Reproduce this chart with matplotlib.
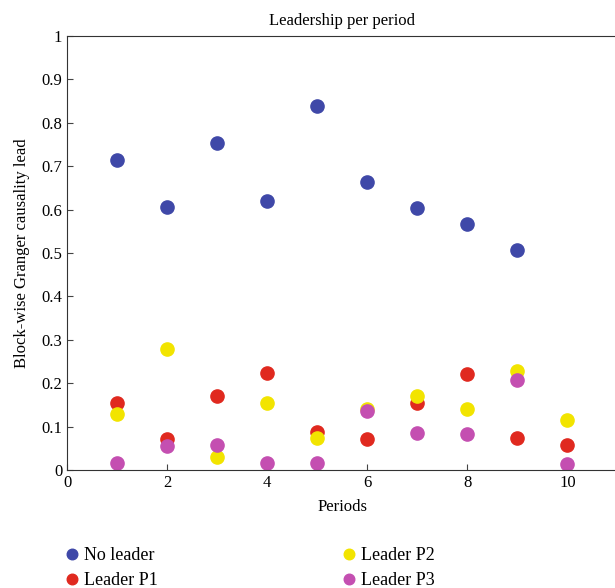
""" leadership per period """

import matplotlib.pyplot as plt

plt.rcParams['font.family'] = ['Liberation Serif', 'DejaVu Serif']

periods = [1, 2, 3, 4, 5, 6, 7, 8, 9, 10]
no_leader = [0.714, 0.607, 0.754, 0.621, 0.838, 0.664, 0.604, 0.567, 0.506]
leader_p1 = [0.155, 0.072, 0.170, 0.223, 0.088, 0.072, 0.155, 0.221, 0.073, 0.058]
leader_p2 = [0.129, 0.279, 0.031, 0.155, 0.074, 0.140, 0.170, 0.141, 0.227, 0.115]
leader_p3 = [0.015, 0.055, 0.057, 0.015, 0.015, 0.136, 0.085, 0.084, 0.208, 0.014]

fig = plt.figure(figsize=(6.15, 5.88), dpi=100)
ax = fig.add_axes([0.109, 0.2007, 0.895, 0.738])

ms = 9.5
ax.plot(periods[:9], no_leader, 'o', color='#3f48a8', markersize=ms, label='No leader')
ax.plot(periods, leader_p1, 'o', color='#e0291f', markersize=ms, label='Leader P1')
ax.plot(periods, leader_p2, 'o', color='#f2e400', markersize=ms, label='Leader P2')
ax.plot(periods, leader_p3, 'o', color='#c44fb1', markersize=ms, label='Leader P3')

ax.set_xlim(0, 11)
ax.set_ylim(0, 1)
ax.set_xticks([0, 2, 4, 6, 8, 10])
ax.set_yticks([0, 0.1, 0.2, 0.3, 0.4, 0.5, 0.6, 0.7, 0.8, 0.9, 1])
ax.set_yticklabels(['0', '0.1', '0.2', '0.3', '0.4', '0.5', '0.6', '0.7', '0.8', '0.9', '1'])
ax.tick_params(direction='in', labelsize=12, length=4, color='#444444')
ax.spines['right'].set_visible(False)
for s in ['left', 'bottom', 'top']:
    ax.spines[s].set_color('#333333')

ax.set_title('Leadership per period', fontsize=12, pad=8)
ax.set_xlabel('Periods', fontsize=12, labelpad=6)
ax.set_ylabel('Block-wise Granger causality lead', fontsize=12, labelpad=8)

ax.legend(loc='upper left', bbox_to_anchor=(-0.018, -0.161), ncol=2, frameon=False,
          fontsize=13, markerscale=0.8, handletextpad=0.2, handlelength=0.9,
          columnspacing=10.15, labelspacing=0.45, borderaxespad=0)

plt.savefig('out.png')
